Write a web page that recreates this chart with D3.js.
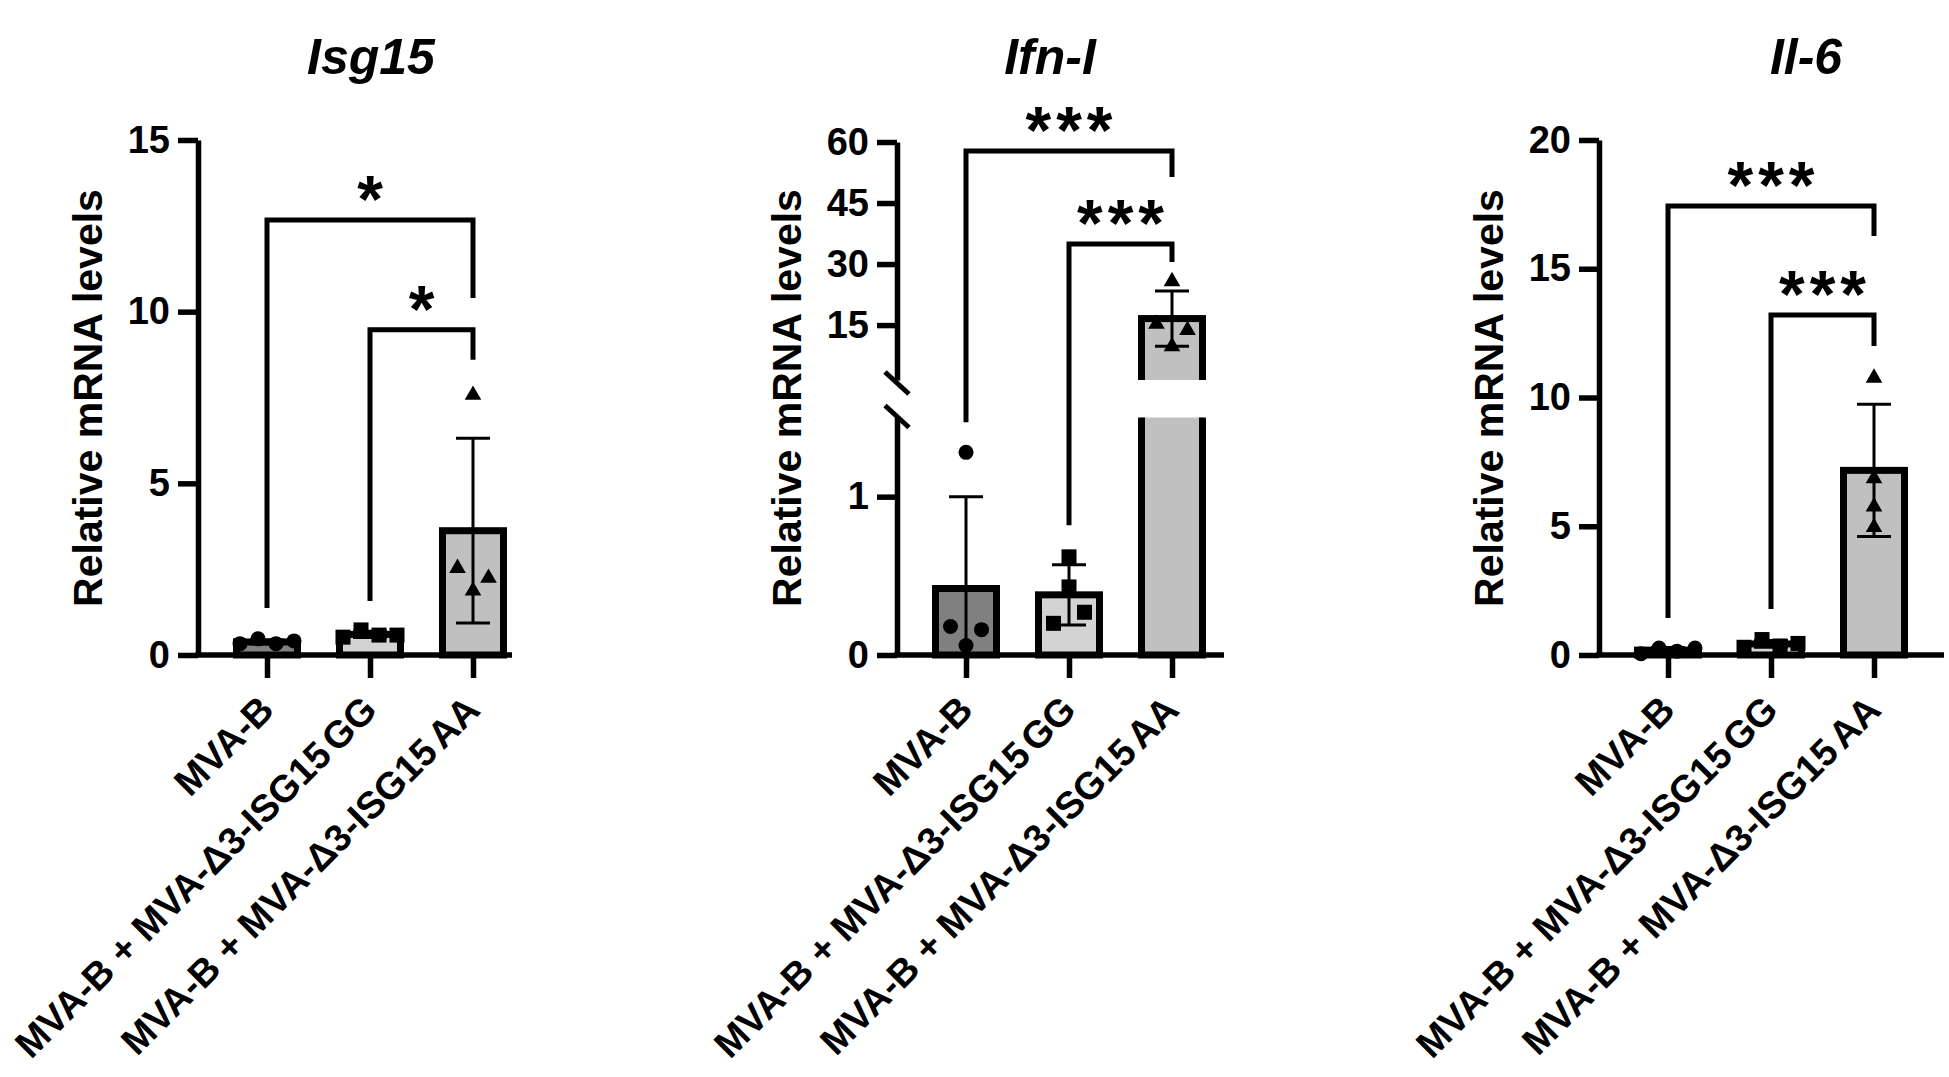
<!DOCTYPE html>
<html>
<head>
<meta charset="utf-8">
<script src="https://cdn.jsdelivr.net/npm/d3@7"></script>
<style>
    body { margin: 0; background: #fff; }
    svg { display: block; font-family: "Liberation Sans", Arial, sans-serif; }
</style>
</head>
<body>
<svg id="chart" width="1949" height="1077"></svg>
<script>
// ---- data ----
const categories = ["MVA-B", "MVA-B + MVA-Δ3-ISG15GG", "MVA-B + MVA-Δ3-ISG15AA"];

// Isg15
const isg15Mean = [0.38, 0.60, 3.62];
const isg15Sd = [0.06, 0.09, 2.69];
const isg15Points = [[0.33, 0.47, 0.33, 0.41], [0.52, 0.73, 0.58, 0.58], [7.6, 2.56, 2.27, 1.9]];
const isg15Ticks = [0, 5, 10, 15];
const isg15Brackets = [
    {from: 0, to: 2, top: 12.67, leftEnd: 1.37, rightEnd: 10.4, label: "*"},
    {from: 1, to: 2, top: 9.47, leftEnd: 1.57, rightEnd: 8.6, label: "*"}
];

// Ifn-I (broken axis)
const ifnMean = [0.42, 0.38, 16.6];
const ifnSd = [0.58, 0.19, 6.8];
const ifnPoints = [[1.28, 0.18, 0.16, 0.06], [0.62, 0.43, 0.20, 0.27], [26, 15.5, 14, 10]];
const ifnTicksLow = [0, 1];
const ifnTicksHigh = [15, 30, 45, 60];
const ifnBreak = 1.5;
const ifnBrackets = [
    {from: 0, to: 2, top: 57.8, leftEnd: 1.47, rightEnd: 51.4, label: "***"},
    {from: 1, to: 2, top: 34.9, leftEnd: 0.82, rightEnd: 30.5, label: "***"}
];

// Il-6
const il6Mean = [0.19, 0.43, 7.17];
const il6Sd = [0.1, 0.13, 2.57];
const il6Points = [[0.05, 0.27, 0.15, 0.27], [0.3, 0.6, 0.35, 0.45], [10.8, 6.9, 5.8, 5.0]];
const il6Ticks = [0, 5, 10, 15, 20];
const il6Brackets = [
    {from: 0, to: 2, top: 17.44, leftEnd: 1.44, rightEnd: 16.27, label: "***"},
    {from: 1, to: 2, top: 13.2, leftEnd: 1.79, rightEnd: 12.0, label: "***"}
];

// ---- styling ----
const fills = ["#808080", "#d3d3d3", "#c0c0c0"];
const shapes = ["circle", "square", "triangle"];
const baseY = 655, topY = 140;

const panels = [
    {title: "Isg15", titleX: 371, axisX: 198, xEnd: 512,
     mean: isg15Mean, sd: isg15Sd, points: isg15Points, brackets: isg15Brackets,
     segments: [{domain: [0, 15], range: [baseY, topY], ticks: isg15Ticks}]},
    {title: "Ifn-I", titleX: 1050, axisX: 897, xEnd: 1224,
     mean: ifnMean, sd: ifnSd, points: ifnPoints, brackets: ifnBrackets,
     segments: [{domain: [0, ifnBreak], range: [baseY, 417.5], ticks: ifnTicksLow},
                {domain: [ifnBreak, 60], range: [380, 142], ticks: ifnTicksHigh}]},
    {title: "Il-6", titleX: 1806, axisX: 1599, xEnd: 1944,
     mean: il6Mean, sd: il6Sd, points: il6Points, brackets: il6Brackets,
     segments: [{domain: [0, 20], range: [baseY, topY], ticks: il6Ticks}]}
];

const svg = d3.select("#chart");

// spread points that sit at the same height, like a column scatter
function swarm(vals, y, cx) {
    let order = vals.map((v, i) => i).sort((a, b) => vals[b] - vals[a]);
    let rows = [];
    order.forEach(i => {
        let py = y(vals[i]);
        let row = rows.find(r => Math.abs(r.y - py) < 12);
        if (row) row.items.push(i);
        else rows.push({y: py, items: [i]});
    });
    let out = [];
    rows.forEach(r => {
        r.items.sort((a, b) => a - b);
        let n = r.items.length, gap = n > 2 ? 18 : 31;
        r.items.forEach((i, k) => { out[i] = cx + (k - (n - 1) / 2) * gap; });
    });
    return out;
}

function drawMarker(g, shape, x, y) {
    if (shape == "circle") {
        g.append("circle").attr("cx", x).attr("cy", y).attr("r", 7.5).attr("fill", "#000");
    } else if (shape == "square") {
        g.append("rect").attr("x", x - 7.5).attr("y", y - 7.5).attr("width", 15).attr("height", 15).attr("fill", "#000");
    } else {
        g.append("path").attr("d", d3.symbol().type(d3.symbolTriangle).size(120)()).attr("transform", "translate(" + x + "," + (y + 1) + ")").attr("fill", "#000");
    }
}

panels.forEach(function(p, pi) {
    let g = svg.append("g");
    let x = d3.scalePoint().domain(categories).range([p.axisX + 69, p.axisX + 275]);

    p.segments.forEach(s => { s.scale = d3.scaleLinear().domain(s.domain).range(s.range); });
    let yPos = function(v) {
        let seg = p.segments.length > 1 && v >= p.segments[1].domain[0] ? p.segments[1] : p.segments[0];
        return seg.scale(v);
    };

    // bars, clipped to each axis segment
    p.segments.forEach(function(s, si) {
        let clipId = "clip" + pi + "_" + si;
        let top = (si == 0 && p.segments.length > 1) ? s.range[1] : 0;
        let bottom = si == 0 ? 1077 : s.range[0];
        svg.append("clipPath").attr("id", clipId)
            .append("rect").attr("x", 0).attr("y", top).attr("width", 1949).attr("height", bottom - top);
        g.append("g").attr("clip-path", "url(#" + clipId + ")")
            .selectAll("rect")
            .data(categories)
            .enter().append("rect")
            .attr("x", d => x(d) - 30.5)
            .attr("width", 61)
            .attr("y", (d, i) => s.scale(p.mean[i]))
            .attr("height", (d, i) => Math.max(0, s.scale(s.domain[0] == 0 ? 0 : s.domain[0] - 2) - s.scale(p.mean[i])))
            .attr("fill", (d, i) => fills[i])
            .attr("stroke", "#000")
            .attr("stroke-width", 7);
    });

    // error bars (SD)
    categories.forEach(function(c, i) {
        let cx = x(c);
        let lo = Math.max(0, p.mean[i] - p.sd[i]), hi = p.mean[i] + p.sd[i];
        g.append("line").attr("x1", cx).attr("x2", cx)
            .attr("y1", yPos(lo)).attr("y2", yPos(hi))
            .attr("stroke", "#000").attr("stroke-width", 3);
        g.append("line").attr("x1", cx - 17).attr("x2", cx + 17)
            .attr("y1", yPos(hi)).attr("y2", yPos(hi))
            .attr("stroke", "#000").attr("stroke-width", 3);
        if (p.mean[i] - p.sd[i] > 0) {
            g.append("line").attr("x1", cx - 17).attr("x2", cx + 17)
                .attr("y1", yPos(lo)).attr("y2", yPos(lo))
                .attr("stroke", "#000").attr("stroke-width", 3);
        }
    });

    // individual points
    categories.forEach(function(c, i) {
        let xs = swarm(p.points[i], yPos, x(c));
        p.points[i].forEach((v, k) => drawMarker(g, shapes[i], xs[k], yPos(v)));
    });

    // y axis segments
    p.segments.forEach(function(s) {
        let ax = g.append("g")
            .attr("transform", "translate(" + p.axisX + ",0)")
            .call(d3.axisLeft(s.scale).tickValues(s.ticks).tickFormat(d3.format("d"))
                .tickSize(20).tickSizeOuter(0).tickPadding(8));
        ax.select(".domain").attr("stroke-width", 5.5);
        ax.selectAll(".tick line").attr("stroke-width", 5.5);
        ax.selectAll(".tick text")
            .attr("font-size", 38)
            .attr("font-weight", "bold")
            .attr("font-family", "'Liberation Sans', Arial, sans-serif")
            .attr("fill", "#000");
    });

    // axis break marks
    if (p.segments.length > 1) {
        [p.segments[1].range[0] + 3, p.segments[0].range[1] - 1].forEach(function(yy) {
            g.append("line")
                .attr("x1", p.axisX - 12).attr("y1", yy - 11)
                .attr("x2", p.axisX + 12).attr("y2", yy + 11)
                .attr("stroke", "#000").attr("stroke-width", 5);
        });
    }

    // x axis
    g.append("line")
        .attr("x1", p.axisX - 2.75).attr("x2", p.xEnd)
        .attr("y1", baseY).attr("y2", baseY)
        .attr("stroke", "#000").attr("stroke-width", 5.5);
    let xa = g.append("g")
        .attr("transform", "translate(0," + baseY + ")")
        .call(d3.axisBottom(x).tickSize(23).tickSizeOuter(0).tickFormat(""));
    xa.select(".domain").remove();
    xa.selectAll(".tick line").attr("stroke-width", 5.5);

    // rotated category labels
    categories.forEach(function(c) {
        let m = c.match(/^(.*ISG15)(GG|AA)$/);
        let t = g.append("text")
            .attr("transform", "translate(" + (x(c) + 9) + ",712) rotate(-45)")
            .attr("text-anchor", "end")
            .attr("font-size", 38)
            .attr("font-weight", "bold");
        if (m) {
            t.append("tspan").text(m[1]);
            t.append("tspan").attr("dx", 5).text(m[2]);
        } else {
            t.text(c);
        }
    });

    // y axis title
    g.append("text")
        .attr("transform", "translate(" + (p.axisX - 111) + ",398) rotate(-90)")
        .attr("text-anchor", "middle")
        .attr("dy", "0.36em")
        .attr("font-size", 41)
        .attr("font-weight", "bold")
        .text("Relative mRNA levels");

    // panel title
    g.append("text")
        .attr("x", p.titleX).attr("y", 74)
        .attr("text-anchor", "middle")
        .attr("font-size", 50)
        .attr("font-weight", "bold")
        .attr("font-style", "italic")
        .text(p.title);

    // significance brackets
    p.brackets.forEach(function(b) {
        let xl = x(categories[b.from]), xr = x(categories[b.to]);
        let yt = yPos(b.top);
        g.append("path")
            .attr("d", "M" + xl + "," + yPos(b.leftEnd) + "V" + yt + "H" + xr + "V" + yPos(b.rightEnd))
            .attr("fill", "none")
            .attr("stroke", "#000")
            .attr("stroke-width", 5);
        g.append("text")
            .attr("x", (xl + xr) / 2 + 2.5)
            .attr("y", yt + 2)
            .attr("text-anchor", "middle")
            .attr("font-size", 66)
            .attr("font-weight", "bold")
            .attr("letter-spacing", 5)
            .text(b.label);
    });
});
</script>
</body>
</html>
